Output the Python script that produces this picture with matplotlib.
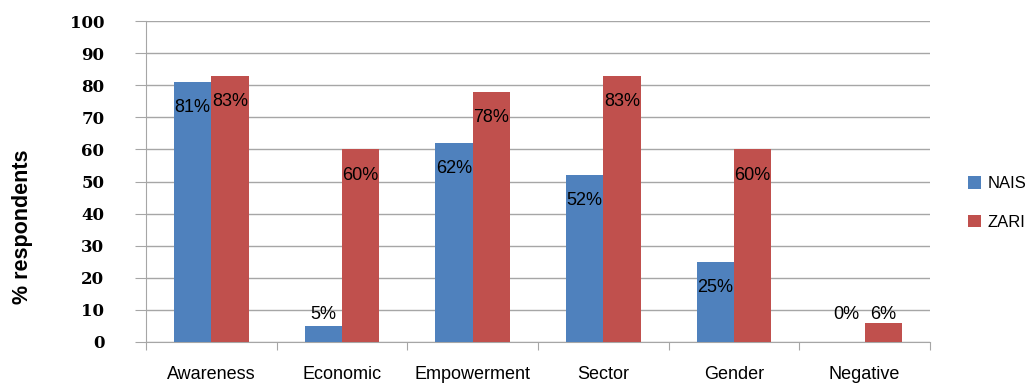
#Grouped bar chart: % respondents, NAIS vs ZARI

import numpy as np
import matplotlib.pyplot as plt

#data
categories = ['Awareness', 'Economic', 'Empowerment', 'Sector', 'Gender', 'Negative']
nais = [81, 5, 62, 52, 25, 0]
zari = [83, 60, 78, 83, 60, 6]
yticks = list(range(0, 101, 10))

blue = '#4F81BD'
red = '#C0504D'
grey = '#A6A6A6'

fig = plt.figure(figsize=(10.26, 3.83), dpi=100)
ax = fig.add_axes([146/1026, 1 - 342/383, (930 - 146)/1026, (342 - 21)/383])

x = np.arange(len(categories))
w = 0.285
ax.bar(x - w/2, nais, w, color=blue, label='NAIS', zorder=3)
ax.bar(x + w/2, zari, w, color=red, label='ZARI', zorder=3)

#data labels, inside end (pushed up for the short bars)
for xs, vals in ((x - w/2, nais), (x + w/2, zari)):
    for xi, v in zip(xs, vals):
        ax.text(xi, max(v - 8, 8.5), '%d%%' % v, ha='center', va='center',
                fontsize=13, family='Liberation Sans', color='black', zorder=4)

ax.set_xlim(-0.5, len(categories) - 0.5)
ax.set_ylim(0, 100)
ax.set_yticks(yticks)
ax.set_yticklabels([str(t) for t in yticks], fontsize=12, fontweight='bold',
                   family='DejaVu Serif')
ax.yaxis.grid(True, color=grey, linewidth=1, zorder=0)

ax.set_xticks(np.arange(len(categories) + 1) - 0.5)
ax.set_xticklabels([])
ax.set_xticks(x, minor=True)
ax.set_xticklabels(categories, minor=True, fontsize=13, family='Liberation Sans')
ax.tick_params(axis='x', which='major', direction='out', length=6, color=grey)
ax.tick_params(axis='x', which='minor', length=0, pad=17)
ax.tick_params(axis='y', direction='out', length=8, color=grey, pad=22)

for s in ['top', 'right']:
    ax.spines[s].set_visible(False)
for s in ['left', 'bottom']:
    ax.spines[s].set_color(grey)

ax.set_ylabel('% respondents', fontsize=15.5, fontweight='bold',
              family='Liberation Sans')
ax.yaxis.set_label_coords(-0.144, 0.36)

ax.legend(loc='center left', bbox_to_anchor=(1.048, 0.433), frameon=False,
          borderaxespad=0, borderpad=0, handlelength=0.8, handleheight=0.8,
          handletextpad=0.4, labelspacing=1.4,
          prop={'family': 'Liberation Sans', 'size': 12})

fig.savefig('out.png', dpi=100)
